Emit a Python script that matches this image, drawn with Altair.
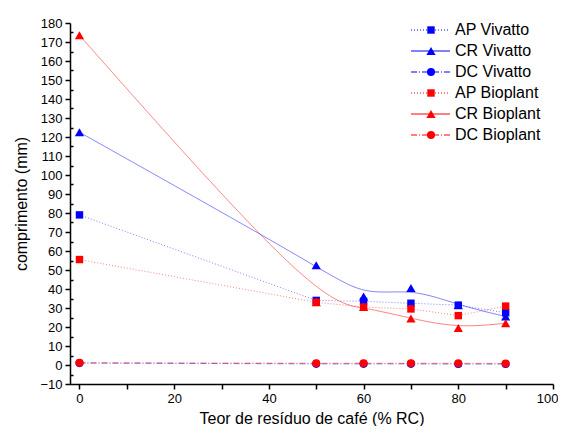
import altair as alt
import pandas as pd

# ---- data ----
x_vals = [0, 50, 60, 70, 80, 90]
ap_vivatto = [79.0, 34.0, 33.5, 32.5, 31.5, 27.5]
cr_vivatto = [122.5, 52.5, 36.0, 40.5, 31.5, 25.5]
dc_vivatto = [1.0, 0.6, 0.6, 0.6, 0.5, 0.5]
ap_bioplant = [55.5, 33.0, 30.5, 29.5, 26.0, 31.0]
cr_bioplant = [173.5, 33.0, 30.5, 24.5, 19.5, 22.0]
dc_bioplant = [1.2, 0.9, 0.9, 0.9, 0.9, 0.8]

series_names = ["AP Vivatto", "CR Vivatto", "DC Vivatto",
                "AP Bioplant", "CR Bioplant", "DC Bioplant"]
series_values = [ap_vivatto, cr_vivatto, dc_vivatto,
                 ap_bioplant, cr_bioplant, dc_bioplant]
series_colors = ["#0000ff", "#0000ff", "#0000ff", "#ff0000", "#ff0000", "#ff0000"]
series_shapes = ["square", "triangle-up", "circle"] * 2
series_sizes = [55, 85, 65] * 2
series_dash = [[1, 2], [1, 0], [6, 2, 1, 2]] * 2
series_interp = ["linear", "basis", "linear"] * 2

x_ticks = list(range(0, 101, 10))
y_ticks = list(range(-10, 181, 10))
y_minor = list(range(-5, 180, 10))

x_title = "Teor de resíduo de café (% RC)"
y_title = "comprimento (mm)"

W, H = 483, 361
FONT = "Liberation Sans"

rows = []
for name, vals in zip(series_names, series_values):
    for xv, yv in zip(x_vals, vals):
        rows.append({"series": name, "x": xv, "y": yv})
df = pd.DataFrame(rows)

xscale = alt.Scale(domain=[-2, 100], nice=False, zero=False)
yscale = alt.Scale(domain=[-10, 180], nice=False, zero=False)
color_scale = alt.Scale(domain=series_names, range=series_colors)
shape_scale = alt.Scale(domain=series_names, range=series_shapes)

x_axis = alt.Axis(values=x_ticks, title=x_title,
                  labelExpr="datum.value % 20 === 0 ? datum.label : ''",
                  tickSize=5, labelPadding=3, titlePadding=5,
                  labelFlush=True, labelFlushOffset=5)
y_axis = alt.Axis(values=y_ticks, title=y_title, tickSize=5,
                  labelPadding=3, titlePadding=10)
y_minor_axis = alt.Axis(values=y_minor, orient="right", offset=-W,
                        labels=False, domain=False, title="", tickSize=3)

X = alt.X("x:Q", scale=xscale, axis=x_axis)
layers = []
for i, name in enumerate(series_names):
    base = alt.Chart(df).transform_filter(alt.datum.series == name)
    first = (i == 0)
    line = base.mark_line(strokeWidth=1, opacity=0.5,
                          strokeDash=series_dash[i],
                          interpolate=series_interp[i]).encode(
        x=X,
        y=alt.Y("y:Q", scale=yscale, axis=y_axis if first else None),
        color=alt.Color("series:N", scale=color_scale, legend=None),
    )
    pts = base.mark_point(filled=True, opacity=1, size=series_sizes[i]).encode(
        x=X,
        y=alt.Y("y:Q", scale=yscale, axis=None),
        color=alt.Color("series:N", scale=color_scale, legend=None),
        shape=alt.Shape("series:N", scale=shape_scale, legend=None),
    )
    layers += [line, pts]

minor = alt.Chart(df).mark_point(opacity=0).encode(
    x=X,
    y=alt.Y("y:Q", scale=yscale, axis=y_minor_axis),
)
layers.append(minor)

# ---- legend (top right, inside plot) ----
leg_y0, leg_dy = 7, 21
for i, name in enumerate(series_names):
    yy = leg_y0 + leg_dy * i
    ldf = pd.DataFrame({"series": [name]})
    lb = alt.Chart(ldf)
    layers.append(lb.mark_rule(strokeWidth=1, strokeDash=series_dash[i]).encode(
        x=alt.value(341), x2=alt.value(380), y=alt.value(yy),
        color=alt.Color("series:N", scale=color_scale, legend=None)))
    layers.append(lb.mark_point(filled=True, opacity=1, size=series_sizes[i]).encode(
        x=alt.value(361), y=alt.value(yy),
        color=alt.Color("series:N", scale=color_scale, legend=None),
        shape=alt.Shape("series:N", scale=shape_scale, legend=None)))
    layers.append(lb.mark_text(align="left", baseline="middle", fontSize=16,
                               font=FONT, color="black").encode(
        x=alt.value(385), y=alt.value(yy), text="series:N"))

chart = alt.layer(*layers).resolve_axis(y="independent").properties(
    width=W, height=H,
    padding={"left": 62, "top": 15, "right": 5, "bottom": 42},
    autosize=alt.AutoSizeParams(type="none"),
).configure_view(stroke=None).configure_axis(
    labelFont=FONT, titleFont=FONT, labelFontSize=13, titleFontSize=16,
    titleFontWeight="normal", labelColor="black", titleColor="black",
    domainColor="black", tickColor="black", domainWidth=1.5, tickWidth=1.5,
    grid=False,
)

chart.save("out.html", embed_options={"renderer": "svg", "actions": False})
